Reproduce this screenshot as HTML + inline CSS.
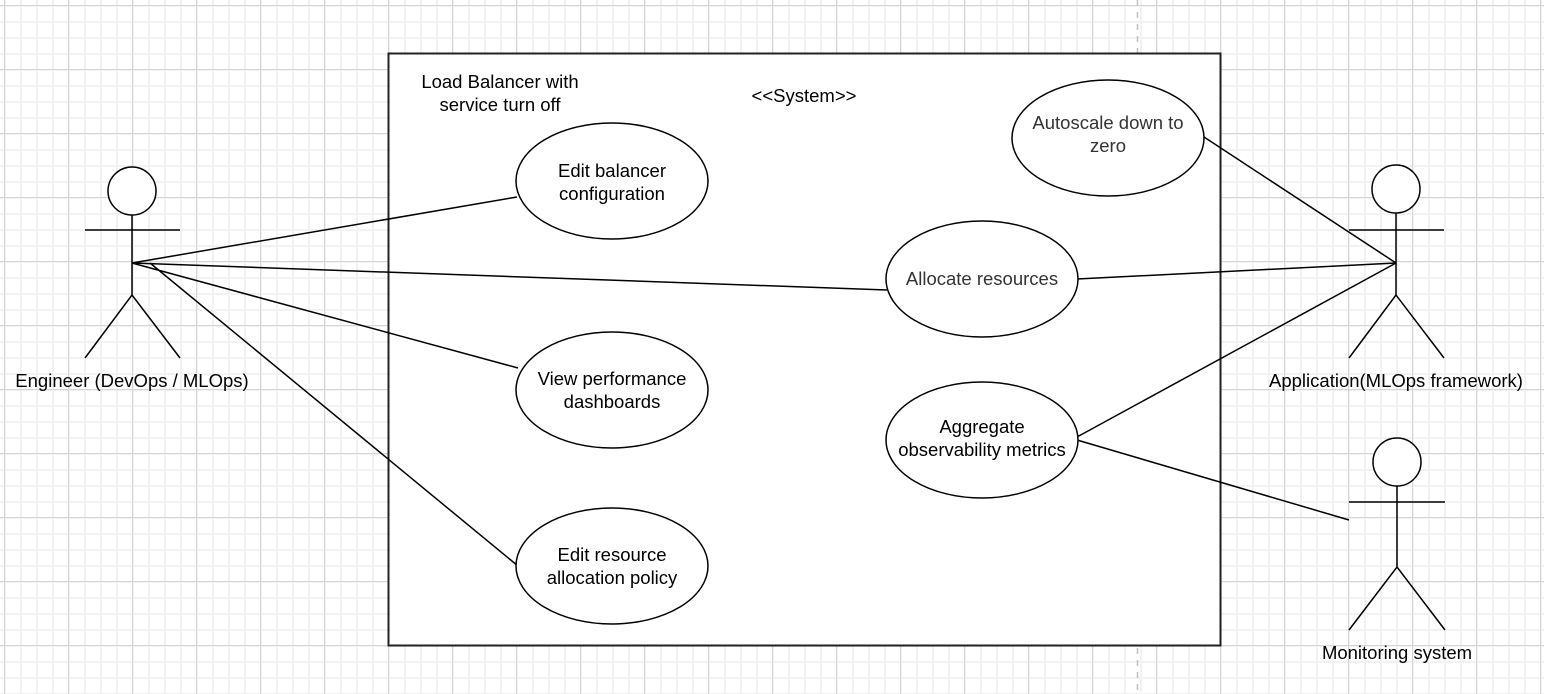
<!DOCTYPE html>
<html><head><meta charset="utf-8"><style>
html,body{margin:0;padding:0;background:#fff}
svg{display:block}
text{font-family:"Liberation Sans",Helvetica,Arial,sans-serif;font-size:18.5px;fill:#000}
</style></head><body>
<svg width="1544" height="694" viewBox="0 0 1544 694" xmlns="http://www.w3.org/2000/svg">
<defs>
<pattern id="minor" width="16" height="16" patternUnits="userSpaceOnUse" x="4" y="5">
<path d="M1 0V16M0 1H16" stroke="#f2f2f2" stroke-width="2" fill="none"/>
</pattern>
<pattern id="major" width="64" height="64" patternUnits="userSpaceOnUse" x="4" y="5">
<path d="M0.5 0V64M0 0.5H64" stroke="#d6d6d6" stroke-width="1" fill="none"/>
</pattern>
</defs>
<rect width="1544" height="694" fill="url(#minor)"/>
<rect width="1544" height="694" fill="url(#major)"/>
<line x1="1137.5" y1="0" x2="1137.5" y2="694" stroke="#c0c0c0" stroke-width="1.5" stroke-dasharray="6,6"/>

<rect x="388.5" y="53.5" width="832" height="592" fill="#fff" stroke="#222" stroke-width="2"/>
<text x="500" y="88" text-anchor="middle">Load Balancer with</text>
<text x="500" y="111" text-anchor="middle">service turn off</text>
<text x="804" y="102" text-anchor="middle">&lt;&lt;System&gt;&gt;</text>

<g stroke="#000" stroke-width="1.5" fill="none">
<line x1="132" y1="263" x2="517" y2="197"/>
<line x1="132" y1="263" x2="887" y2="290"/>
<line x1="132" y1="263" x2="518" y2="368"/>
<line x1="150" y1="263" x2="518" y2="566"/>
<line x1="1204" y1="137" x2="1396" y2="263"/>
<line x1="1077" y1="279" x2="1396" y2="263"/>
<line x1="1077" y1="437" x2="1396" y2="263"/>
<line x1="1077" y1="440" x2="1349" y2="520"/>
</g>

<g stroke="#000" stroke-width="1.5" fill="#fff">
<ellipse cx="612" cy="181" rx="96" ry="58"/>
<ellipse cx="1108" cy="138" rx="96" ry="58"/>
<ellipse cx="982" cy="279" rx="96" ry="58"/>
<ellipse cx="612" cy="390" rx="96" ry="58"/>
<ellipse cx="982" cy="440" rx="96" ry="58"/>
<ellipse cx="612" cy="566" rx="96" ry="58"/>
</g>
<text x="612" y="177" text-anchor="middle">Edit balancer</text>
<text x="612" y="200" text-anchor="middle">configuration</text>
<text x="1108" y="129" text-anchor="middle" style="fill:#333">Autoscale down to</text>
<text x="1108" y="152" text-anchor="middle" style="fill:#333">zero</text>
<text x="982" y="285" text-anchor="middle" style="fill:#333">Allocate resources</text>
<text x="612" y="385" text-anchor="middle">View performance</text>
<text x="612" y="408" text-anchor="middle">dashboards</text>
<text x="982" y="433" text-anchor="middle">Aggregate</text>
<text x="982" y="456" text-anchor="middle">observability metrics</text>
<text x="612" y="561" text-anchor="middle">Edit resource</text>
<text x="612" y="584" text-anchor="middle">allocation policy</text>

<g stroke="#000" stroke-width="1.5" fill="none">
<circle cx="132" cy="191" r="24" fill="#fff"/>
<line x1="132" y1="215" x2="132" y2="295"/>
<line x1="85" y1="230" x2="180" y2="230"/>
<path d="M85 358L132 295L180 358"/>
<circle cx="1396" cy="189" r="24" fill="#fff"/>
<line x1="1396" y1="213" x2="1396" y2="295"/>
<line x1="1349" y1="230" x2="1444" y2="230"/>
<path d="M1349 358L1396 295L1444 358"/>
<circle cx="1397" cy="462" r="24" fill="#fff"/>
<line x1="1397" y1="486" x2="1397" y2="567"/>
<line x1="1349" y1="502" x2="1445" y2="502"/>
<path d="M1349 630L1397 567L1445 630"/>
</g>
<text x="132" y="387" text-anchor="middle">Engineer (DevOps / MLOps)</text>
<text x="1396" y="387" text-anchor="middle">Application(MLOps framework)</text>
<text x="1397" y="659" text-anchor="middle">Monitoring system</text>
</svg>
</body></html>
